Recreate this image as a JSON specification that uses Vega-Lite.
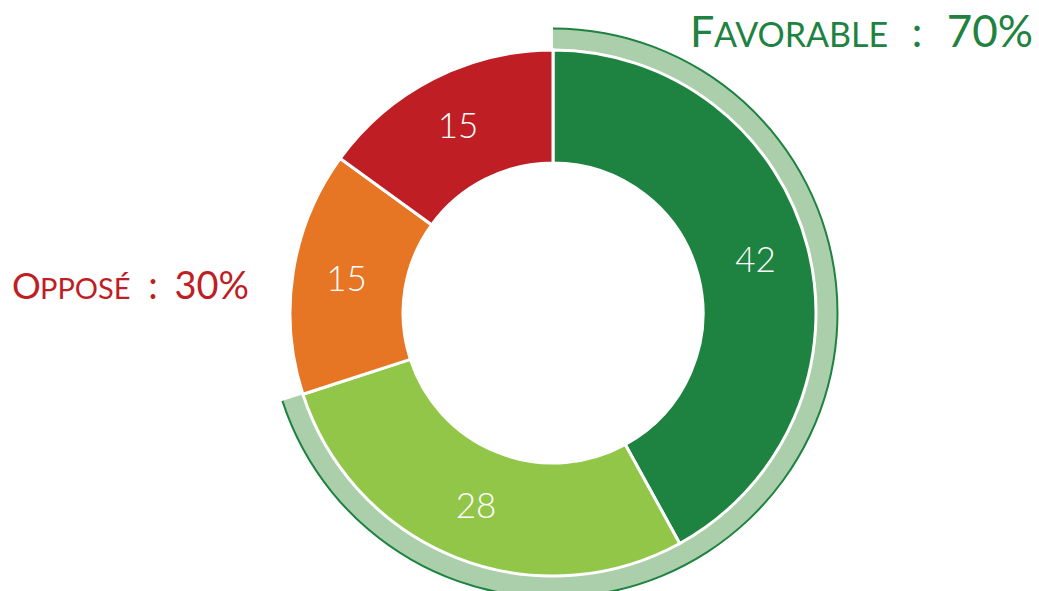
{
  "$schema": "https://vega.github.io/schema/vega-lite/v6.json",
  "width": 972,
  "height": 556,
  "autosize": {"type": "none"},
  "padding": {"left": 67, "top": 35, "right": 0, "bottom": 0},
  "background": "white",
  "config": {"view": {"stroke": null}, "font": "Lato"},
  "datasets": {
    "segments": [
      {"categorie": "Tout à fait favorable", "valeur": 42, "rang": 1},
      {"categorie": "Plutôt favorable", "valeur": 28, "rang": 2},
      {"categorie": "Plutôt opposé", "valeur": 15, "rang": 3},
      {"categorie": "Tout à fait opposé", "valeur": 15, "rang": 4}
    ],
    "groupes": [
      {"groupe": "Favorable", "valeur": 70, "rang": 1},
      {"groupe": "Opposé", "valeur": 30, "rang": 2}
    ]
  },
  "resolve": {"scale": {"color": "independent"}},
  "layer": [
    {
      "data": {"name": "groupes"},
      "mark": {"type": "arc", "innerRadius": 240, "outerRadius": 285},
      "encoding": {
        "theta": {"field": "valeur", "type": "quantitative", "stack": true},
        "order": {"field": "rang", "type": "quantitative"},
        "color": {"field": "groupe", "type": "nominal", "scale": {"domain": ["Favorable", "Opposé"], "range": ["#abcfab", "transparent"]}, "legend": null}
      }
    },
    {
      "data": {"name": "groupes"},
      "mark": {"type": "arc", "innerRadius": 283.5, "outerRadius": 285.5},
      "encoding": {
        "theta": {"field": "valeur", "type": "quantitative", "stack": true},
        "order": {"field": "rang", "type": "quantitative"},
        "color": {"field": "groupe", "type": "nominal", "scale": {"domain": ["Favorable", "Opposé"], "range": ["#1e8240", "transparent"]}, "legend": null}
      }
    },
    {
      "data": {"name": "segments"},
      "mark": {"type": "arc", "innerRadius": 150, "outerRadius": 263, "stroke": "white", "strokeWidth": 3},
      "encoding": {
        "theta": {"field": "valeur", "type": "quantitative", "stack": true},
        "order": {"field": "rang", "type": "quantitative"},
        "color": {"field": "categorie", "type": "nominal", "scale": {"domain": ["Tout à fait favorable", "Plutôt favorable", "Plutôt opposé", "Tout à fait opposé"], "range": ["#1e8240", "#92c648", "#e67524", "#be1e24"]}, "legend": null}
      }
    },
    {
      "data": {"name": "segments"},
      "mark": {"type": "text", "radius": 209, "fontSize": 35, "fontWeight": 300, "fill": "white", "align": "center", "baseline": "middle"},
      "encoding": {
        "theta": {"field": "valeur", "type": "quantitative", "stack": true},
        "order": {"field": "rang", "type": "quantitative"},
        "text": {"field": "valeur", "type": "quantitative"}
      }
    },
    {
      "data": {"values": [{}]},
      "mark": {"type": "text", "text": "F", "fontSize": 43, "fill": "#1e8240", "align": "left", "baseline": "alphabetic", "dx": 137, "dy": -266},
      "encoding": {}
    },
    {
      "data": {"values": [{}]},
      "mark": {"type": "text", "text": "AVORABLE", "fontSize": 34, "fill": "#1e8240", "align": "left", "baseline": "alphabetic", "dx": 161, "dy": -266},
      "encoding": {}
    },
    {
      "data": {"values": [{}]},
      "mark": {"type": "text", "text": ":", "fontSize": 42, "fill": "#1e8240", "align": "center", "baseline": "alphabetic", "dx": 364, "dy": -266},
      "encoding": {}
    },
    {
      "data": {"values": [{}]},
      "mark": {"type": "text", "text": "70%", "fontSize": 44, "fill": "#1e8240", "align": "right", "baseline": "alphabetic", "dx": 480, "dy": -266},
      "encoding": {}
    },
    {
      "data": {"values": [{}]},
      "mark": {"type": "text", "text": "O", "fontSize": 36, "fill": "#be1e24", "align": "left", "baseline": "alphabetic", "dx": -541, "dy": -14},
      "encoding": {}
    },
    {
      "data": {"values": [{}]},
      "mark": {"type": "text", "text": "PPOSÉ", "fontSize": 29, "fill": "#be1e24", "align": "left", "baseline": "alphabetic", "dx": -513, "dy": -14},
      "encoding": {}
    },
    {
      "data": {"values": [{}]},
      "mark": {"type": "text", "text": ":", "fontSize": 38, "fill": "#be1e24", "align": "center", "baseline": "alphabetic", "dx": -400, "dy": -14},
      "encoding": {}
    },
    {
      "data": {"values": [{}]},
      "mark": {"type": "text", "text": "30%", "fontSize": 38, "fill": "#be1e24", "align": "right", "baseline": "alphabetic", "dx": -304, "dy": -14},
      "encoding": {}
    }
  ]
}
